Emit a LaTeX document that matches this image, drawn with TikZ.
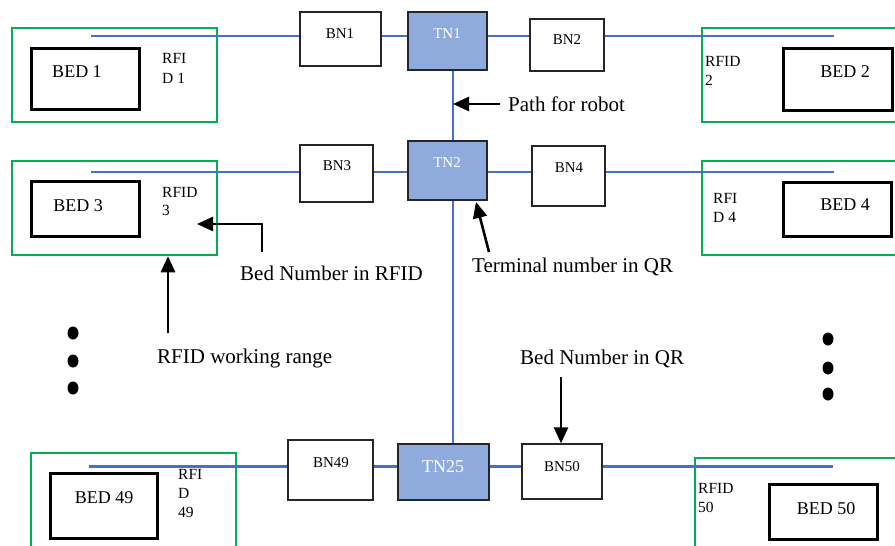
\documentclass[tikz,border=0pt]{standalone}
\usepackage{fontspec}
\setmainfont{Liberation Serif}
\usetikzlibrary{arrows.meta}
\definecolor{rangegreen}{HTML}{00B050}
\definecolor{pathblue}{HTML}{4472C4}
\definecolor{termfill}{HTML}{8FAADC}
\definecolor{termedge}{HTML}{262626}
\tikzset{
  rangebox/.style={draw=rangegreen, line width=2.5pt, inner sep=0pt},
  bedbox/.style={draw=black, line width=3pt, inner sep=0pt},
  bnbox/.style={draw=black!85, line width=1.3pt, fill=white, inner sep=0pt},
  tnbox/.style={draw=termedge, line width=1.5pt, fill=termfill, inner sep=0pt},
  robotpath/.style={draw=pathblue, line width=2.4pt},
  callout/.style={draw=black, line width=2.6pt, -{Triangle[length=16pt,width=14pt]}},
  boxtxt/.style={font=\fontsize{15}{18}\selectfont, inner sep=0pt, anchor=base},
  tntxt/.style={boxtxt, text=white},
  bedtxt/.style={font=\fontsize{18}{21}\selectfont, inner sep=0pt, anchor=base},
  rfidtxt/.style={font=\fontsize{15.5}{19}\selectfont, inner sep=0pt, anchor=base west},
  note/.style={font=\fontsize{21}{25}\selectfont, inner sep=0pt, anchor=base west},
}
\begin{document}
\begin{tikzpicture}[x=1pt, y=-1pt]
\clip (0,0) rectangle (895,546);
\fill[white] (0,0) rectangle (895,546);

% RFID working ranges
\node[rangebox, minimum width=205, minimum height=94] (g1) at (114.5,75) {};
\node[rangebox, minimum width=205, minimum height=94] (g2) at (804.5,75) {};
\node[rangebox, minimum width=205, minimum height=94] (g3) at (114.5,208) {};
\node[rangebox, minimum width=205, minimum height=94] (g4) at (804.5,208) {};
\node[rangebox, minimum width=205, minimum height=110] (g49) at (133.5,508) {};
\node[rangebox, minimum width=215, minimum height=104] (g50) at (802.5,510) {};

% beds
\node[bedbox, minimum width=108, minimum height=61] (bed1) at (85,78.5) {};
\node[bedbox, minimum width=109, minimum height=62] (bed2) at (837.5,79) {};
\node[bedbox, minimum width=108, minimum height=55] (bed3) at (85,208.5) {};
\node[bedbox, minimum width=108, minimum height=54] (bed4) at (837,209) {};
\node[bedbox, minimum width=107, minimum height=65] (bed49) at (103.5,505.5) {};
\node[bedbox, minimum width=108, minimum height=55] (bed50) at (823,511.5) {};

% bed and terminal QR markers
\node[bnbox, minimum width=81, minimum height=54] (bn1) at (340.5,39) {};
\node[tnbox, minimum width=79, minimum height=58] (tn1) at (447.5,41) {};
\node[bnbox, minimum width=74, minimum height=52] (bn2) at (567,45) {};
\node[bnbox, minimum width=73, minimum height=57] (bn3) at (336.5,173.5) {};
\node[tnbox, minimum width=79, minimum height=59] (tn2) at (447.5,170.5) {};
\node[bnbox, minimum width=73, minimum height=60] (bn4) at (568.5,176) {};
\node[bnbox, minimum width=85, minimum height=60] (bn49) at (330.5,470) {};
\node[tnbox, minimum width=91, minimum height=56] (tn25) at (443.5,472) {};
\node[bnbox, minimum width=80, minimum height=55] (bn50) at (562,471.5) {};

% robot path
\coordinate (r1s) at (91,36);   \coordinate (r1e) at (834,36);
\coordinate (r2s) at (91,172);  \coordinate (r2e) at (834,172);
\coordinate (r3s) at (89,466.5);\coordinate (r3e) at (833,466.5);
\coordinate (spine) at (453,0);
\draw[robotpath] (r1s) -- (r1s -| bn1.west)
  (bn1.east |- r1s) -- (tn1.west |- r1s)
  (tn1.east |- r1s) -- (bn2.west |- r1s)
  (bn2.east |- r1s) -- (r1e);
\draw[robotpath] (r2s) -- (r2s -| bn3.west)
  (bn3.east |- r2s) -- (tn2.west |- r2s)
  (tn2.east |- r2s) -- (bn4.west |- r2s)
  (bn4.east |- r2s) -- (r2e);
\draw[robotpath] (r3s) -- (r3s -| bn49.west)
  (bn49.east |- r3s) -- (tn25.west |- r3s)
  (tn25.east |- r3s) -- (bn50.west |- r3s)
  (bn50.east |- r3s) -- (r3e);
\draw[robotpath] (spine |- tn1.south) -- (spine |- tn2.north)
  (spine |- tn2.south) -- (spine |- tn25.north);

% marker texts
\node[boxtxt] (bn1t) at (340,38) {BN1};
\node[tntxt] (tn1t) at (447,38) {TN1};
\node[boxtxt] (bn2t) at (567,45) {BN2};
\node[boxtxt] (bn3t) at (337,170) {BN3};
\node[tntxt] (tn2t) at (447,167) {TN2};
\node[boxtxt] (bn4t) at (569,172) {BN4};
\node[boxtxt] (bn49t) at (331,467) {BN49};
\node[tntxt, font=\fontsize{18}{21}\selectfont] (tn25t) at (443,472) {TN25};
\node[boxtxt] (bn50t) at (562,471) {BN50};

% bed texts
\node[bedtxt] (bed1t) at (77,77) {BED 1};
\node[bedtxt] (bed2t) at (845,77) {BED 2};
\node[bedtxt] (bed3t) at (78,211) {BED 3};
\node[bedtxt] (bed4t) at (845,210) {BED 4};
\node[bedtxt] (bed49t) at (104,503) {BED 49};
\node[bedtxt] (bed50t) at (826,514) {BED 50};

% RFID tags
\node[rfidtxt] (rf1a) at (162,63) {RFI};
\node[rfidtxt] (rf1b) at (162,83) {D 1};
\node[rfidtxt] (rf2a) at (705,66) {RFID};
\node[rfidtxt] (rf2b) at (705,85) {2};
\node[rfidtxt] (rf3a) at (162,197) {RFID};
\node[rfidtxt] (rf3b) at (162,215) {3};
\node[rfidtxt] (rf4a) at (713,203) {RFI};
\node[rfidtxt] (rf4b) at (713,222) {D 4};
\node[rfidtxt] (rf49a) at (178,479) {RFI};
\node[rfidtxt] (rf49b) at (178,498) {D};
\node[rfidtxt] (rf49c) at (178,517) {49};
\node[rfidtxt] (rf50a) at (698,493) {RFID};
\node[rfidtxt] (rf50b) at (698,512) {50};

% annotations
\node[note] (pfr) at (508,111) {Path for robot};
\node[note] (bnr) at (240,280) {Bed Number in RFID};
\node[note] (tnq) at (472,272) {Terminal number in QR};
\node[note] (wrr) at (157,363) {RFID working range};
\node[note] (bnq) at (520,364) {Bed Number in QR};

\coordinate (pfrtail) at (500,104);
\draw[callout] (pfrtail) -- (pfrtail -| spine);
\coordinate (bnrtail) at (262,252);
\coordinate (bnrbend) at (262,224);
\coordinate (bnrtip) at (197,224);
\draw[callout] (bnrtail) -- (bnrbend) -- (bnrtip);
\coordinate (tnqtail) at (489,252);
\coordinate (tnqtip) at (476,202);
\draw[callout] (tnqtail) -- (tnqtip);
\coordinate (wrrtail) at (168,333);
\draw[callout] (wrrtail) -- (wrrtail |- g3.south);
\coordinate (bnqtail) at (561,377);
\draw[callout] (bnqtail) -- (bnqtail |- bn50.north);

% continuation dots
\fill (73,333) ellipse [x radius=5.5pt, y radius=6.5pt];
\fill (73,361) ellipse [x radius=5.5pt, y radius=6.5pt];
\fill (73,388) ellipse [x radius=5.5pt, y radius=6.5pt];
\fill (828,339) ellipse [x radius=5.5pt, y radius=6.5pt];
\fill (828,368) ellipse [x radius=5.5pt, y radius=6.5pt];
\fill (828,394) ellipse [x radius=5.5pt, y radius=6.5pt];
\end{tikzpicture}
\end{document}
